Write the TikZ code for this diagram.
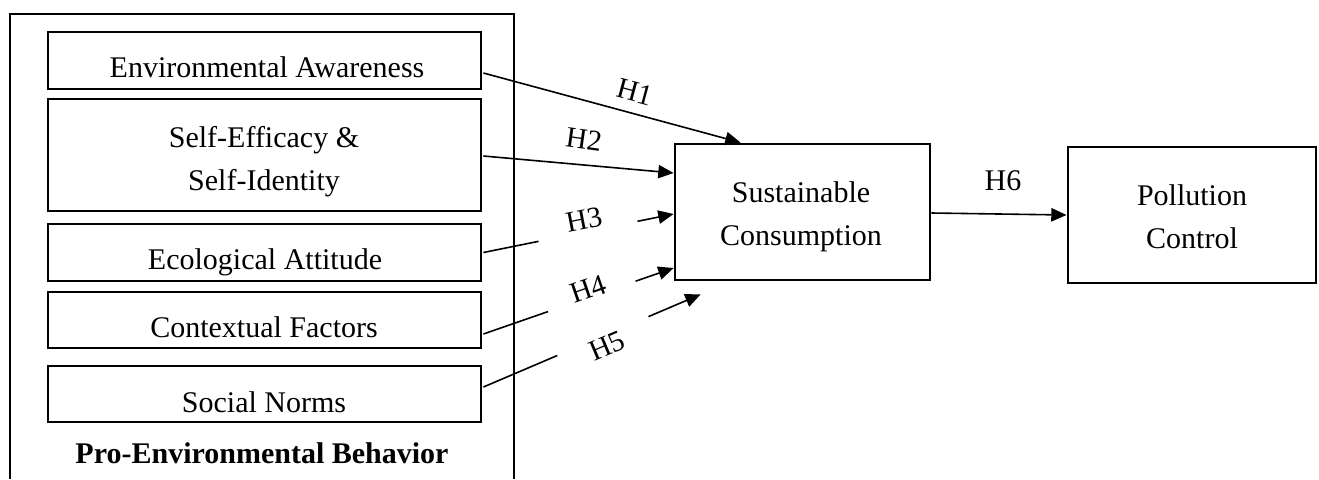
\documentclass[tikz,border=0pt]{standalone}
\usepackage{fontspec}
\setmainfont{Liberation Serif}
\usetikzlibrary{arrows.meta,calc}
\tikzset{
  boxln/.style={draw, line width=2.1pt, inner sep=0pt},
  txt/.style={anchor=base, inner sep=0pt, font=\fontsize{22.5}{31}\selectfont},
  hlab/.style={inner sep=0pt, font=\fontsize{22}{31}\selectfont},
  conn/.style={line width=1.2pt},
  arr/.style={line width=1.2pt, -{Triangle[length=11.5pt,width=10pt]}},
}
\begin{document}
\begin{tikzpicture}[x=0.75pt,y=-0.75pt]
\useasboundingbox (0,0) rectangle (1319,479);
% outer container (open at bottom)
\draw[line width=2.1pt] (10,479) -- (10,14) -- (514,14) -- (514,479);
% inner boxes
\node[boxln, minimum width=324.75pt, minimum height=42.75pt] (ea) at (264.5,60.5) {};
\node[boxln, minimum width=324.75pt, minimum height=84pt] (se) at (264.5,155) {};
\node[boxln, minimum width=324.75pt, minimum height=42.75pt] (eco) at (264.5,252.5) {};
\node[boxln, minimum width=324.75pt, minimum height=42pt] (cf) at (264.5,320) {};
\node[boxln, minimum width=324.75pt, minimum height=42pt] (sn) at (264.5,394) {};
\node[txt] (ea-t) at (267,77) {Environmental Awareness};
\node[txt] (se-t1) at (264,147) {Self-Efficacy \&};
\node[txt] (se-t2) at (264,190) {Self-Identity};
\node[txt] (eco-t) at (265,269) {Ecological Attitude};
\node[txt] (cf-t) at (264,337) {Contextual Factors};
\node[txt] (sn-t) at (264,412) {Social Norms};
\node[txt, font=\fontsize{22.5}{31}\selectfont\bfseries] (peb) at (262,463) {Pro-Environmental Behavior};
% right boxes
\node[boxln, minimum width=191.25pt, minimum height=102pt] (sc) at (802.5,212) {};
\node[txt] (sc-t1) at (801,202) {Sustainable};
\node[txt] (sc-t2) at (801,245) {Consumption};
\node[boxln, minimum width=186pt, minimum height=102pt] (pc) at (1192,215) {};
\node[txt] (pc-t1) at (1192,205) {Pollution};
\node[txt] (pc-t2) at (1192,248) {Control};
% connectors
\coordinate (h1s) at ($(ea.east)+(1,12.5)$);
\coordinate (h1e) at ($(sc.north west)+(67,0)$);
\draw[arr] (h1s) -- (h1e);
\node[hlab, rotate=-15] (H1) at (635,92) {H1};
\coordinate (h2s) at ($(se.east)+(1,1)$);
\coordinate (h2e) at ($(sc.west)+(0,-39)$);
\draw[arr] (h2s) -- (h2e);
\node[hlab, rotate=-8] (H2) at (584,139) {H2};
\coordinate (h3s) at ($(eco.east)+(1,0)$);
\coordinate (h3e) at ($(sc.west)+(0,2)$);
\draw[conn] (h3s) -- ($(h3s)!0.29!(h3e)$);
\draw[arr] ($(h3s)!0.81!(h3e)$) -- (h3e);
\node[hlab, rotate=11] (H3) at (584,220) {H3};
\coordinate (h4s) at ($(cf.east)+(1,14)$);
\coordinate (h4e) at ($(sc.west)+(0,56)$);
\draw[conn] (h4s) -- ($(h4s)!0.34!(h4e)$);
\draw[arr] ($(h4s)!0.80!(h4e)$) -- (h4e);
\node[hlab, rotate=19] (H4) at (588,289) {H4};
\coordinate (h5s) at ($(sn.east)+(1,-7)$);
\coordinate (h5e) at ($(sc.south west)+(27,13)$);
\draw[conn] (h5s) -- ($(h5s)!0.34!(h5e)$);
\draw[arr] ($(h5s)!0.76!(h5e)$) -- (h5e);
\node[hlab, rotate=23] (H5) at (607,346) {H5};
\draw[arr] ($(sc.east)+(0,1)$) -- (pc.west);
\node[txt] (H6) at (1003,190) {H6};
\end{tikzpicture}
\end{document}
